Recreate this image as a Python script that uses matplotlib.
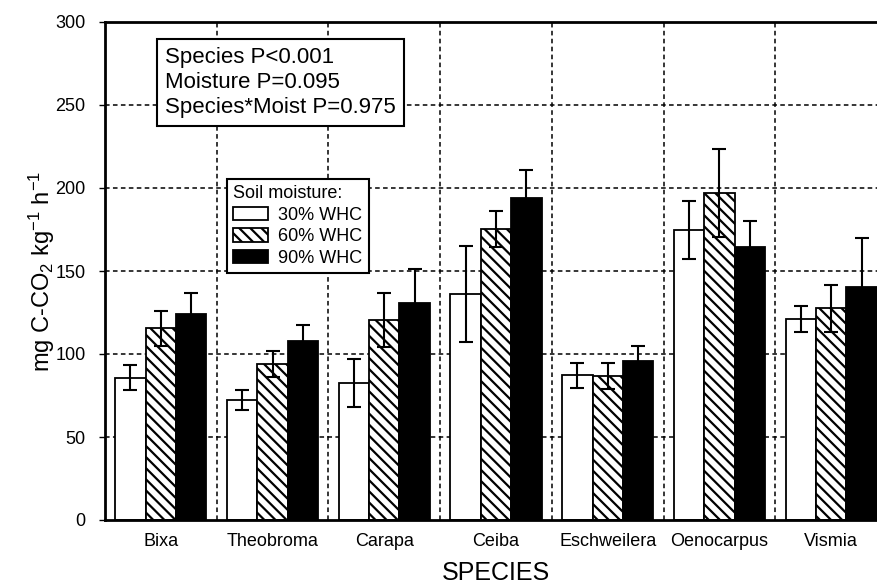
import matplotlib
matplotlib.use("Agg")
import matplotlib.pyplot as plt
import numpy as np

plt.rcParams['font.family'] = ['Liberation Sans', 'DejaVu Sans']
plt.rcParams['mathtext.fontset'] = 'custom'
plt.rcParams['mathtext.rm'] = 'Liberation Sans'
plt.rcParams['mathtext.it'] = 'Liberation Sans:italic'
plt.rcParams['hatch.linewidth'] = 1.6

species = ["Bixa", "Theobroma", "Carapa", "Ceiba", "Eschweilera", "Oenocarpus", "Vismia"]
moisture_labels = ["30% WHC", "60% WHC", "90% WHC"]
mean30 = [85.7, 72.3, 82.5, 136.0, 87.3, 174.7, 120.9]
err30 = [7.6, 5.8, 14.7, 28.8, 7.5, 17.2, 7.9]
mean60 = [115.5, 93.8, 120.5, 175.3, 87.0, 196.8, 127.5]
err60 = [10.5, 7.8, 16.0, 10.8, 7.8, 26.6, 14.0]
mean90 = [124.1, 107.6, 130.5, 194.2, 95.8, 164.7, 140.5]
err90 = [12.4, 9.9, 21.0, 16.5, 9.2, 15.4, 29.2]
yticks = [0, 50, 100, 150, 200, 250, 300]
stats_text = "Species P<0.001\nMoisture P=0.095\nSpecies*Moist P=0.975"

fig = plt.figure(figsize=(8.78, 5.88), dpi=100)
ax = fig.add_axes([105/878, 68/588, 782/878, 498/588])

x = np.arange(len(species))
w = 0.272
styles = [dict(facecolor='white', hatch=None),
          dict(facecolor='white', hatch='\\\\\\'),
          dict(facecolor='black', hatch=None)]
means = [mean30, mean60, mean90]
errs = [err30, err60, err90]
handles = []
for i, (m, e, st) in enumerate(zip(means, errs, styles)):
    pos = x + (i - 1) * w
    b = ax.bar(pos, m, width=w, facecolor=st['facecolor'], hatch=st['hatch'],
               edgecolor='black', linewidth=1.3, zorder=2, label=moisture_labels[i])
    handles.append(b)
    ax.errorbar(pos, m, yerr=e, fmt='none', ecolor='black', elinewidth=1.5,
                capsize=5, capthick=1.5, zorder=3)

ax.set_xlim(-0.5, len(species) - 0.5)
ax.set_ylim(0, 300)
ax.set_yticks(yticks)
ax.set_xticks(x)
ax.set_xticklabels(species)
ax.tick_params(axis='x', which='both', length=0, labelsize=13, pad=9)
ax.tick_params(axis='y', direction='out', length=4, width=1, labelsize=13, pad=10)
ax.grid(False)
for yv in [50, 100, 150, 200, 250]:
    ax.axhline(yv, color='black', lw=1.1, ls=(0, (3, 2.2)), zorder=1)
for xv in np.arange(0.5, len(species) - 0.5, 1.0):
    ax.axvline(xv, color='black', lw=1.1, ls=(0, (3, 2.2)), zorder=1)
for s in ax.spines.values():
    s.set_linewidth(2)

ax.set_ylabel(r'mg C-CO$_2$ kg$^{-1}$ h$^{-1}$', fontsize=17)
ax.yaxis.set_label_coords((57-105)/782, 0.5)
ax.set_xlabel('SPECIES', fontsize=18, labelpad=8)

ax.text((165-105)/782, (520-47)/498, stats_text, transform=ax.transAxes,
        ha='left', va='top', fontsize=16, linespacing=1.25, zorder=5,
        bbox=dict(boxstyle='square,pad=0.35', facecolor='white', edgecolor='black', linewidth=1.5))

leg = ax.legend(handles=handles, labels=moisture_labels, title='Soil moisture:',
                loc='upper left', bbox_to_anchor=((227-105)/782, (520-179)/498),
                borderaxespad=0, fontsize=13, title_fontsize=13, frameon=True,
                fancybox=False, edgecolor='black', framealpha=1,
                handlelength=1.9, handleheight=0.8, handletextpad=0.6,
                labelspacing=0.24, borderpad=0.35)
leg.get_frame().set_linewidth(1.5)
leg._legend_box.align = 'left'
leg.set_zorder(6)

fig.savefig('out.png', dpi=100)
